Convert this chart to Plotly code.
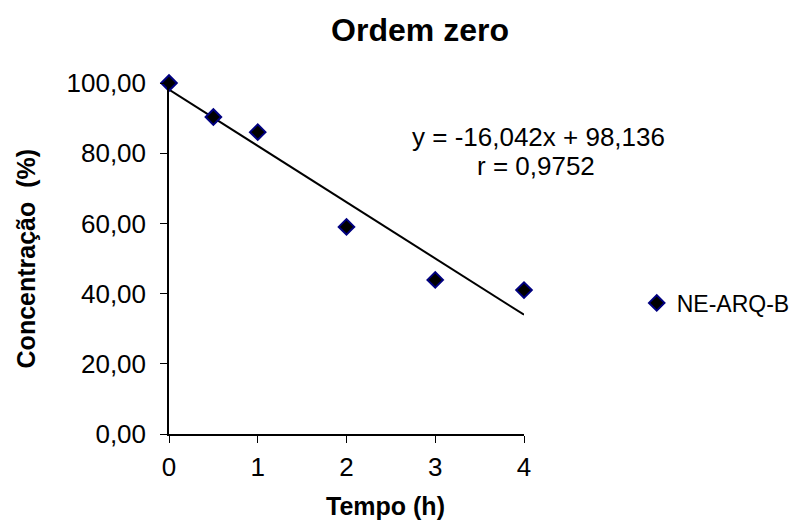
import plotly.graph_objects as go

tempo = [0, 0.5, 1, 2, 3, 4]
concentracao = [100.0, 90.3, 86.0, 59.0, 43.9, 41.0]
slope = -16.042
intercept = 98.136
trend_x = [0, 4]
trend_y = [intercept + slope * x for x in trend_x]
y_ticks = [0, 20, 40, 60, 80, 100]
x_ticks = [0, 1, 2, 3, 4]

FONT = "Liberation Sans, Arial, sans-serif"

fig = go.Figure()
fig.add_trace(go.Scatter(
    x=trend_x, y=trend_y, mode="lines", cliponaxis=False,
    line=dict(color="black", width=2), showlegend=False, hoverinfo="skip"))
fig.add_trace(go.Scatter(
    x=tempo, y=concentracao, mode="markers", name="NE-ARQ-B", cliponaxis=False,
    marker=dict(symbol="diamond", size=12, color="black",
                line=dict(color="#000080", width=2))))

fig.update_layout(
    width=791, height=525,
    margin=dict(l=169, r=267, t=83, b=91, autoexpand=False),
    paper_bgcolor="white", plot_bgcolor="white",
    separators=",.",
    font=dict(family=FONT, size=26, color="black"),
    title=dict(text="<b>Ordem zero</b>", xref="container", x=0.531, xanchor="center",
               yref="container", y=0.943, yanchor="middle", font=dict(size=32)),
    showlegend=True,
    legend=dict(xref="container", yref="container", x=0.805, y=0.423,
                xanchor="left", yanchor="middle",
                font=dict(size=23), bgcolor="rgba(0,0,0,0)",
                itemwidth=30, tracegroupgap=0, borderwidth=0),
    xaxis=dict(range=[0, 4], tickvals=x_ticks, showline=True, linecolor="black",
               linewidth=1.5, ticks="outside", ticklen=7, tickcolor="black",
               ticklabelstandoff=2, showgrid=False, zeroline=False),
    yaxis=dict(range=[0, 100], tickvals=y_ticks, tickformat=".2f",
               showline=True, linecolor="black", linewidth=1.5,
               ticks="outside", ticklen=7, tickcolor="black",
               ticklabelstandoff=9, showgrid=False, zeroline=False),
)
fig.add_annotation(text="<b>Tempo (h)</b>", xref="paper", yref="paper",
                   x=0.611, y=-0.205, xanchor="center", yanchor="middle",
                   showarrow=False, font=dict(size=25))
fig.add_annotation(text="<b>Concentração  (%)</b>", xref="paper", yref="paper",
                   x=-0.403, y=0.5, xanchor="center", yanchor="middle",
                   textangle=-90, showarrow=False, font=dict(size=25))
fig.add_annotation(text="y = -16,042x + 98,136", xref="paper", yref="paper",
                   x=1.04, y=0.846, xanchor="center", yanchor="middle",
                   showarrow=False, font=dict(size=26))
fig.add_annotation(text="r = 0,9752", xref="paper", yref="paper",
                   x=1.035, y=0.764, xanchor="center", yanchor="middle",
                   showarrow=False, font=dict(size=26))

fig.write_html("out.html")
